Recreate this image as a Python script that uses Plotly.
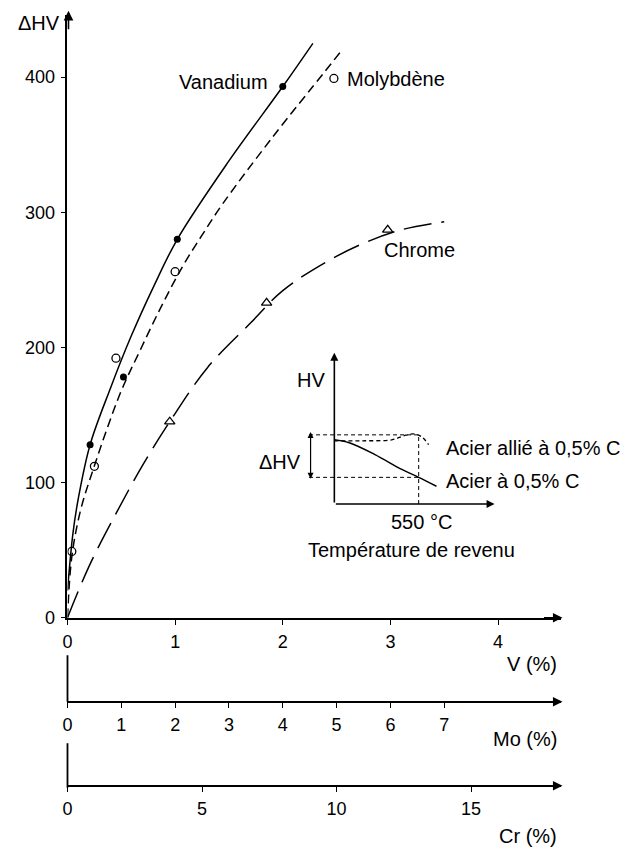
import plotly.graph_objects as go

W, H = 626, 855

# ---------------- data ----------------
# Vanadium (x in V %), solid curve
v_pts_x = [0.21, 0.52, 1.02, 2.0]
v_pts_y = [128, 178, 280, 393]
v_curve_x = [0.0, 0.05, 0.10, 0.21, 0.40, 0.59, 0.80, 1.02, 1.50, 2.0, 2.28]
v_curve_y = [20, 62, 88, 128, 170, 208, 245, 280, 338, 393, 425]

# Molybdene (x in Mo %), dashed curve
mo_pts_x = [0.08, 0.5, 0.9, 2.0, 4.95]
mo_pts_y = [49, 112, 192, 256, 399]
mo_curve_x = [0.0, 0.08, 0.24, 0.48, 0.98, 1.34, 1.74, 2.14, 2.5, 2.88, 3.8, 4.78, 5.06]
mo_curve_y = [0, 45, 79, 110, 166, 197, 230, 260, 283, 306, 355, 404, 418]

# Chrome (x in Cr %), long-dash curve
cr_pts_x = [3.8, 7.4, 11.9]
cr_pts_y = [145, 233, 287]
cr_curve_x = [0.0, 0.8, 1.8, 2.8, 3.8, 5.2, 6.8, 8.0, 9.6, 11.0, 12.4, 14.0]
cr_curve_y = [0, 38, 77, 113, 145, 185, 218, 242, 263, 277, 287, 293]

y_ticks = [0, 100, 200, 300, 400]
v_ticks = [0, 1, 2, 3, 4]
mo_ticks = [0, 1, 2, 3, 4, 5, 6, 7]
cr_ticks = [0, 5, 10, 15]

# inset schematic (tempering temperature, relative HV)
ins_alloy_x = [0, 181, 375, 453, 518, 570, 615]
ins_alloy_y = [64, 64, 65, 69, 71, 68, 60]
ins_plain_x = [0, 97, 265, 440, 550, 666]
ins_plain_y = [65, 62, 50, 35, 27, 18]
ins_hv_high, ins_hv_low, ins_t = 70, 27, 550

# ---------------- helpers ----------------
def px(x):
    return x / W

def py(y):
    return 1 - y / H

FONT = "Liberation Sans, Arial, sans-serif"
BLACK = "#000000"
TXT = 20

fig = go.Figure()

# curves
fig.add_trace(go.Scatter(x=v_curve_x, y=v_curve_y, mode="lines",
                         line=dict(color=BLACK, width=1.5, shape="spline", smoothing=1.0),
                         xaxis="x", yaxis="y", showlegend=False, hoverinfo="skip"))
fig.add_trace(go.Scatter(x=mo_curve_x, y=mo_curve_y, mode="lines",
                         line=dict(color=BLACK, width=1.5, dash="9px,5px", shape="spline", smoothing=1.0),
                         xaxis="x2", yaxis="y", showlegend=False, hoverinfo="skip"))
fig.add_trace(go.Scatter(x=cr_curve_x, y=cr_curve_y, mode="lines",
                         line=dict(color=BLACK, width=1.5, dash="28px,10px", shape="spline", smoothing=1.0),
                         xaxis="x3", yaxis="y", showlegend=False, hoverinfo="skip"))
# points
fig.add_trace(go.Scatter(x=v_pts_x, y=v_pts_y, mode="markers",
                         marker=dict(symbol="circle", size=7, color=BLACK),
                         xaxis="x", yaxis="y", showlegend=False))
fig.add_trace(go.Scatter(x=mo_pts_x, y=mo_pts_y, mode="markers",
                         marker=dict(symbol="circle-open", size=8, color=BLACK, line=dict(width=1.3)),
                         xaxis="x2", yaxis="y", showlegend=False))
fig.add_trace(go.Scatter(x=cr_pts_x, y=cr_pts_y, mode="markers",
                         marker=dict(symbol="triangle-up-open", size=9, color=BLACK, line=dict(width=1.3)),
                         xaxis="x3", yaxis="y", showlegend=False))

# inset traces
fig.add_trace(go.Scatter(x=ins_alloy_x, y=ins_alloy_y, mode="lines",
                         line=dict(color=BLACK, width=1.3, dash="4px,3px", shape="spline"),
                         xaxis="x4", yaxis="y4", showlegend=False, hoverinfo="skip"))
fig.add_trace(go.Scatter(x=ins_plain_x, y=ins_plain_y, mode="lines",
                         line=dict(color=BLACK, width=1.5, shape="spline"),
                         xaxis="x4", yaxis="y4", showlegend=False, hoverinfo="skip"))
for xs, ys in (([-165, ins_t], [ins_hv_high, ins_hv_high]),
               ([-165, ins_t], [ins_hv_low, ins_hv_low]),
               ([ins_t, ins_t], [0, ins_hv_high])):
    fig.add_trace(go.Scatter(x=xs, y=ys, mode="lines",
                             line=dict(color=BLACK, width=1, dash="4px,3px"),
                             xaxis="x4", yaxis="y4", showlegend=False, hoverinfo="skip"))

tickfont = dict(family=FONT, size=18, color=BLACK)
common = dict(showgrid=False, zeroline=False, showline=True, linecolor=BLACK, linewidth=1.8,
              ticks="outside", ticklen=5, tickcolor=BLACK, tickwidth=1.3, tickfont=tickfont)

x_dom = [px(63), px(560)]
v_max = (560 - 63) / 108.5

fig.update_layout(
    width=W, height=H,
    margin=dict(l=0, r=0, t=0, b=0),
    paper_bgcolor="white", plot_bgcolor="rgba(0,0,0,0)",
    showlegend=False,
    xaxis=dict(domain=x_dom, range=[0, v_max], tickvals=v_ticks, anchor="y",
               ticklabelstandoff=2, **common),
    yaxis=dict(domain=[py(625), py(15)], range=[0, (625 - 15) / 1.3675], tickvals=y_ticks,
               anchor="x", ticklabelstandoff=2, **common),
    xaxis2=dict(overlaying="x", anchor="free", position=py(710), range=[0, 2 * v_max],
                tickvals=mo_ticks, ticklabelstandoff=2, **common),
    xaxis3=dict(overlaying="x", anchor="free", position=py(795), range=[0, 4 * v_max],
                tickvals=cr_ticks, ticklabelstandoff=2, **common),
    xaxis4=dict(domain=[px(265), px(600)], range=[(265 - 332) / 85 * 550, (600 - 332) / 85 * 550],
                anchor="y4", visible=False),
    yaxis4=dict(domain=[py(570), py(355)], range=[510 - 570, 510 - 355], anchor="x4", visible=False),
)

ann = []
def text(x, y, s, xref="paper", yref="paper", xanchor="center", size=TXT):
    ann.append(dict(x=x, y=y, xref=xref, yref=yref, text=s, showarrow=False,
                    xanchor=xanchor, yanchor="middle", font=dict(family=FONT, size=size, color=BLACK)))

def arrow(xt, yt, axp, ayp, xref="paper", yref="paper"):
    ann.append(dict(x=xt, y=yt, xref=xref, yref=yref, text="", showarrow=True,
                    ax=axp, ay=ayp, arrowhead=2, arrowsize=1.2, arrowwidth=1.6,
                    arrowcolor=BLACK, standoff=0))

# main axis arrows
arrow(px(64), py(11), 0, 20)
arrow(px(562), py(625), -20, 0)
arrow(px(562), py(710), -20, 0)
arrow(px(562), py(795), -20, 0)

text(px(34), py(23), "ΔHV")
text(px(558), py(672), "V (%)", xanchor="right")
text(px(558), py(748), "Mo (%)", xanchor="right")
text(px(558), py(846), "Cr (%)", xanchor="right")

text(1.88, 396, "Vanadium", xref="x", yref="y", xanchor="right")
text(2.58, 398.5, "Molybdène", xref="x", yref="y", xanchor="left")
text(2.92, 272, "Chrome", xref="x", yref="y", xanchor="left")

# inset axes
for tx, ty in ((0, 153), (1045, 0)):
    ann.append(dict(x=tx, y=ty, ax=0, ay=0, xref="x4", yref="y4", axref="x4", ayref="y4",
                    text="", showarrow=True, arrowhead=2, arrowsize=1, arrowwidth=1.6,
                    arrowcolor=BLACK, standoff=0))
# double arrow for delta HV
ann.append(dict(x=-155, y=ins_hv_high + 3, ax=-155, ay=ins_hv_low - 3, xref="x4", yref="y4",
                axref="x4", ayref="y4", text="", showarrow=True, arrowhead=2, startarrowhead=2,
                arrowside="end+start", arrowsize=1, arrowwidth=1.2, arrowcolor=BLACK, standoff=0))

text(-155, 126, "HV", xref="x4", yref="y4")
text(-356, 43, "ΔHV", xref="x4", yref="y4")
text(712, 57, "Acier allié à 0,5% C", xref="x4", yref="y4", xanchor="left")
text(712, 23, "Acier à 0,5% C", xref="x4", yref="y4", xanchor="left")
text(569, -18, "550 °C", xref="x4", yref="y4")
text(505, -47, "Température de revenu", xref="x4", yref="y4")

fig.update_layout(annotations=ann)

# short vertical stubs of the Mo and Cr scales
fig.add_shape(type="line", xref="paper", yref="paper", x0=px(63), x1=px(63), y0=py(663), y1=py(710),
              line=dict(color=BLACK, width=1.8))
fig.add_shape(type="line", xref="paper", yref="paper", x0=px(63), x1=px(63), y0=py(752), y1=py(797),
              line=dict(color=BLACK, width=1.8))

fig.write_html("out.html", config={"displayModeBar": False},
               post_script="document.body.style.margin='0px';")
